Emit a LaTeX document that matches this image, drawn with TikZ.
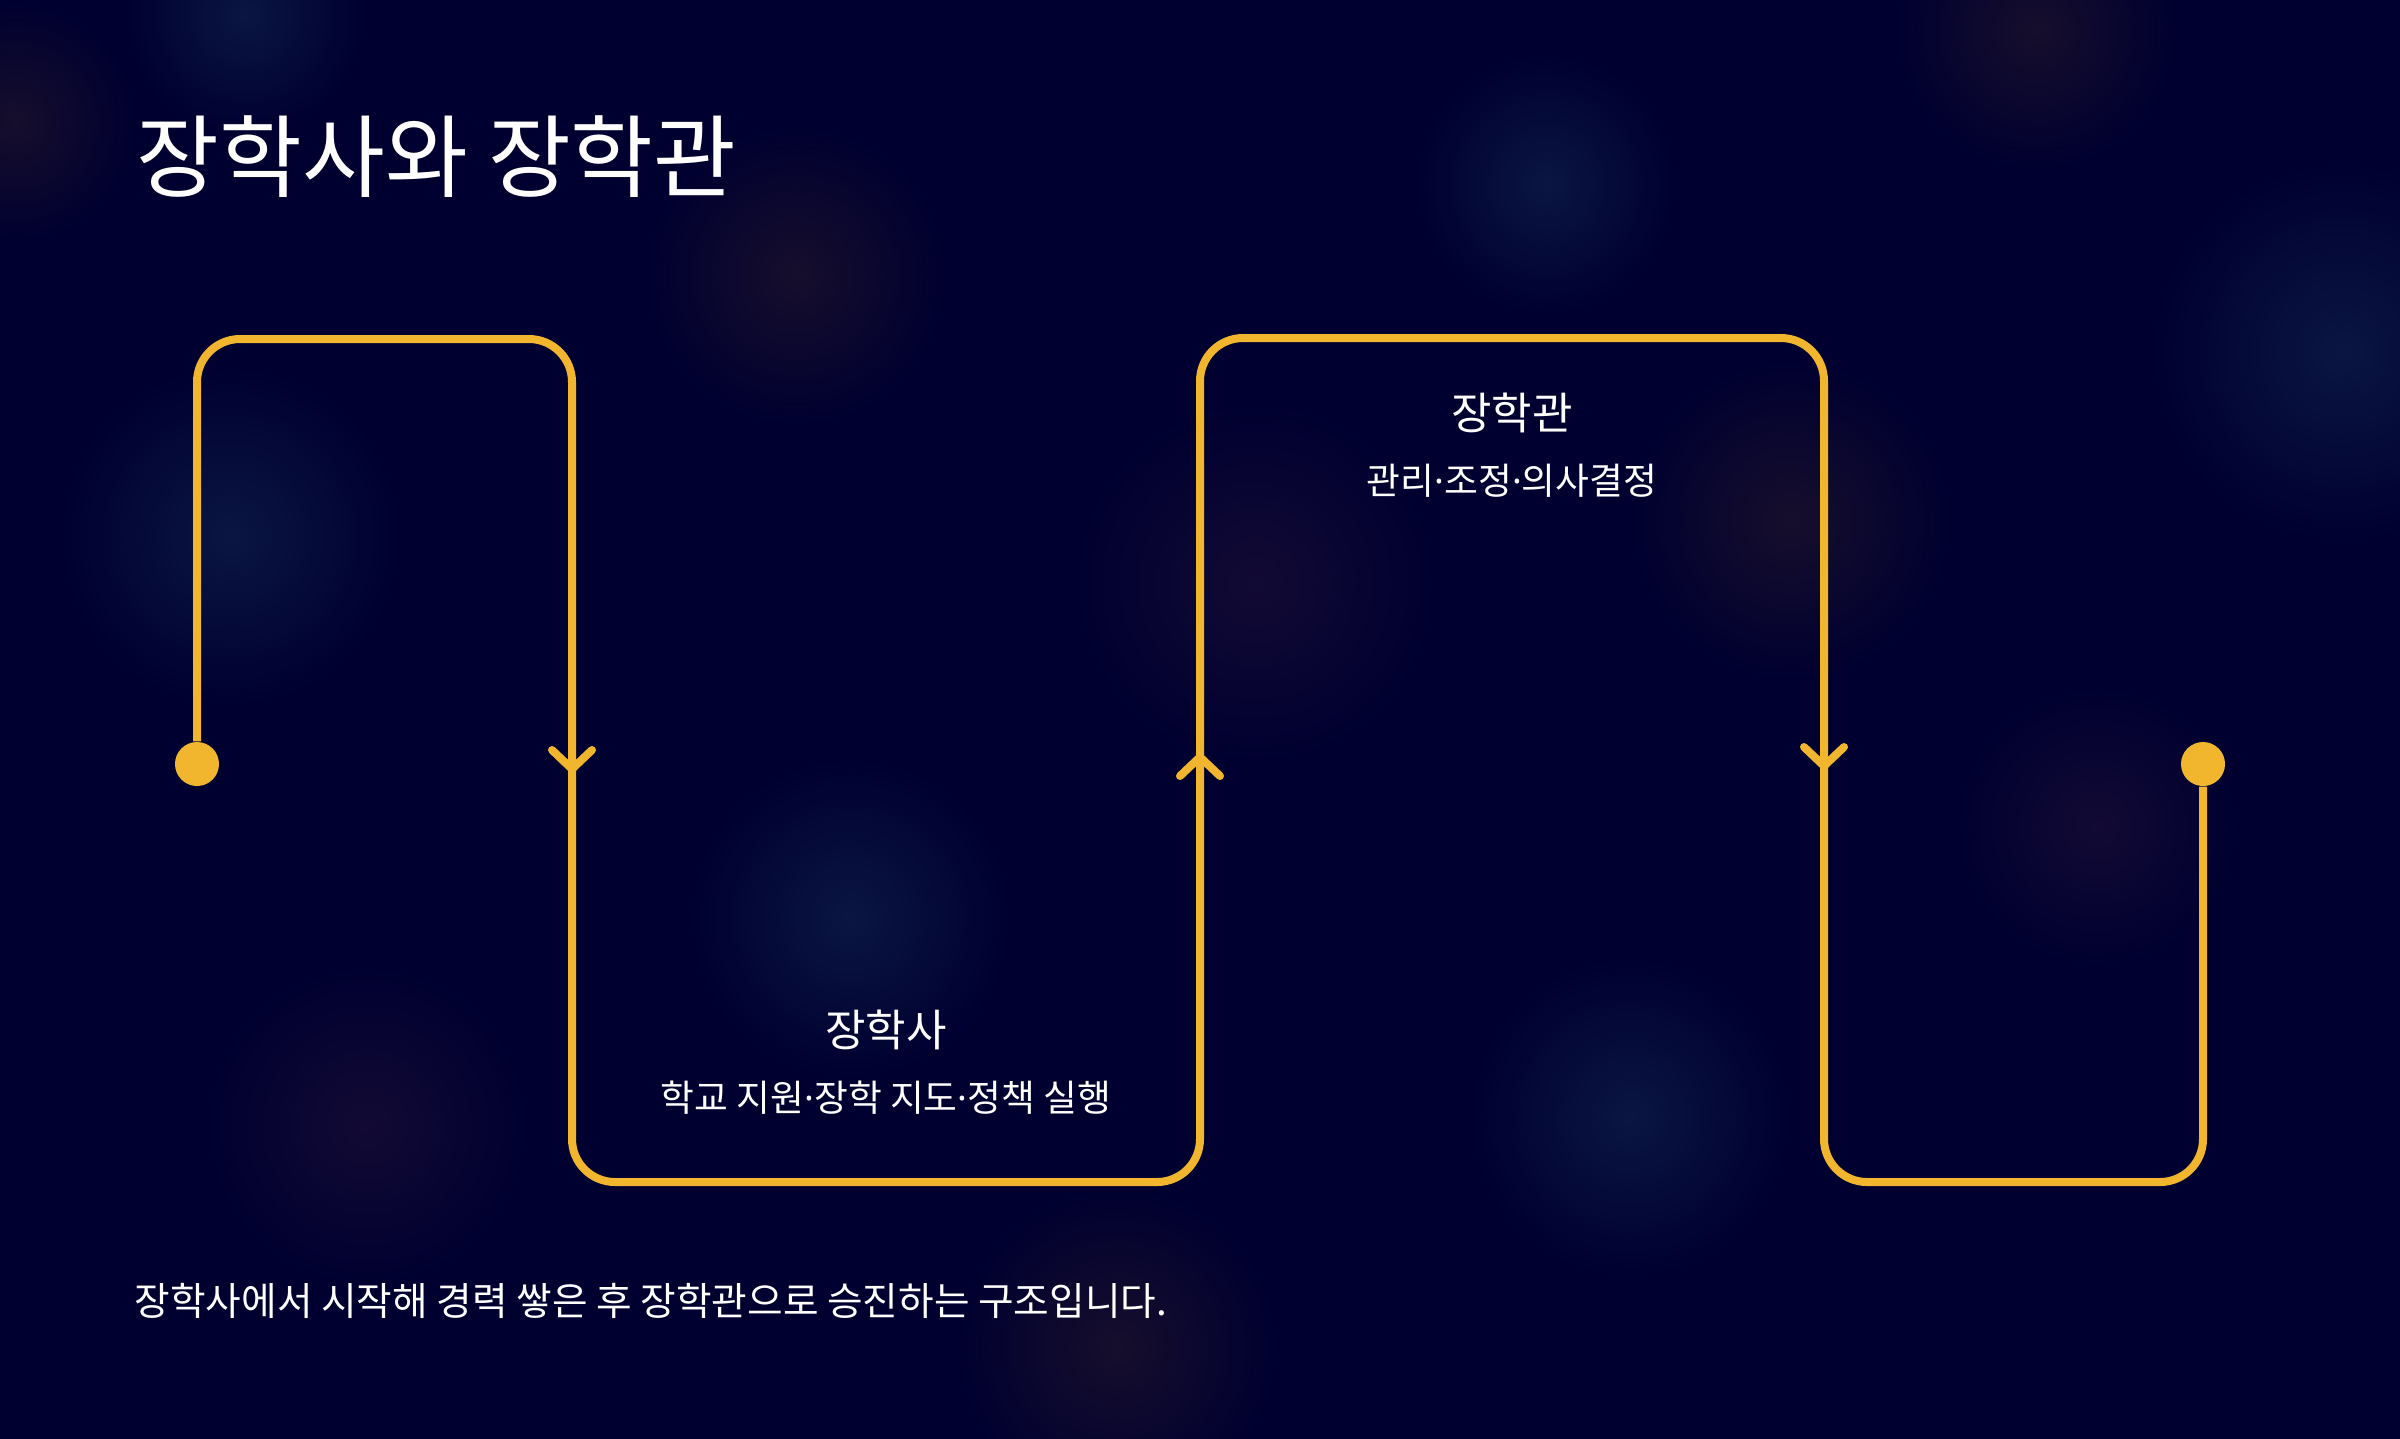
\documentclass[tikz,border=0pt]{standalone}
\usepackage{fontspec}
\setmainfont{Noto Sans CJK KR}
\newfontfamily\dotfont{Noto Sans}
\newcommand{\mdot}{{\dotfont ·}}
\usetikzlibrary{positioning,arrows.meta}

\definecolor{navy}{RGB}{0,0,48}
\definecolor{gold}{RGB}{242,181,46}
\definecolor{glowblue}{RGB}{10,22,66}
\definecolor{glowviolet}{RGB}{18,10,52}
\definecolor{glowamber}{RGB}{22,14,44}

\tikzset{
  flow/.style={draw=gold, line width=0.08cm, line join=round},
  barb/.style={-{Straight Barb[length=0.19cm, width=0.4cm, round]}},
  enddot/.style={circle, fill=gold, inner sep=0pt, minimum size=0.44cm},
  headline/.style={text=white, inner sep=0pt, anchor=west, font=\fontsize{25.6}{30}\selectfont},
  rolename/.style={text=white, inner sep=0pt, font=\fontsize{12.5}{15}\selectfont},
  roledesc/.style={text=white, inner sep=0pt, font=\fontsize{10.45}{12}\selectfont},
  summary/.style={text=white, inner sep=0pt, anchor=west, font=\fontsize{11}{13}\selectfont}
}

\begin{document}
\begin{tikzpicture}[x=0.01cm, y=-0.01cm]
  \useasboundingbox (0,0) rectangle (2400,1438);
  \fill[navy] (-20,-20) rectangle (2420,1458);
  \clip (-20,-20) rectangle (2420,1458);

  % soft glows in the background
  \foreach \gx/\gy/\gr/\gc in {230/536/170/glowblue, 796/275/150/glowamber,
      1255/582/180/glowviolet, 1546/184/130/glowblue, 2342/352/190/glowblue,
      1791/520/160/glowamber, 2097/826/140/glowviolet, 850/918/160/glowblue,
      367/1125/160/glowviolet, 1630/1117/160/glowblue, 1117/1347/160/glowamber,
      245/15/120/glowblue, 2036/30/140/glowamber, 15/122/120/glowamber}
    \shade[inner color=\gc, outer color=navy] (\gx,\gy) circle (\gr);

  % title
  \node[headline] (head) at (136,157) {장학사와 장학관};

  % path corners
  \node[enddot] (start) at (197,764) {};
  \node[enddot] (finish) at (2203,764) {};
  \coordinate (c1) at (197,339);
  \coordinate (c2) at (572,339);
  \coordinate (c3) at (572,1182);
  \coordinate (c4) at (1200,1182);
  \coordinate (c5) at (1200,338);
  \coordinate (c6) at (1824,338);
  \coordinate (c7) at (1824,1182);
  \coordinate (c8) at (2203,1182);

  \draw[flow, rounded corners=0.43cm] (start) -- (c1) -- (c2) -- (c3) -- (c4)
    -- (c5) -- (c6) -- (c7) -- (c8) -- (finish);

  % direction marks
  \coordinate (tip1) at (572,773);
  \coordinate (tip2) at (1200,753);
  \coordinate (tip3) at (1824,770);
  \draw[flow, barb] (tip1) ++(0,-60) -- (tip1);
  \draw[flow, barb] (tip2) ++(0,60) -- (tip2);
  \draw[flow, barb] (tip3) ++(0,-60) -- (tip3);

  % roles
  \node[rolename] (gwan) at (1512,413) {장학관};
  \node[roledesc, below=0.3cm of gwan] (gwandesc) {관리\mdot 조정\mdot 의사결정};
  \node[rolename] (sa) at (886,1030) {장학사};
  \node[roledesc, below=0.3cm of sa] (sadesc) {학교 지원\mdot 장학 지도\mdot 정책 실행};

  \node[summary] (note) at (134,1301) {장학사에서 시작해 경력 쌓은 후 장학관으로 승진하는 구조입니다.};
\end{tikzpicture}
\end{document}
